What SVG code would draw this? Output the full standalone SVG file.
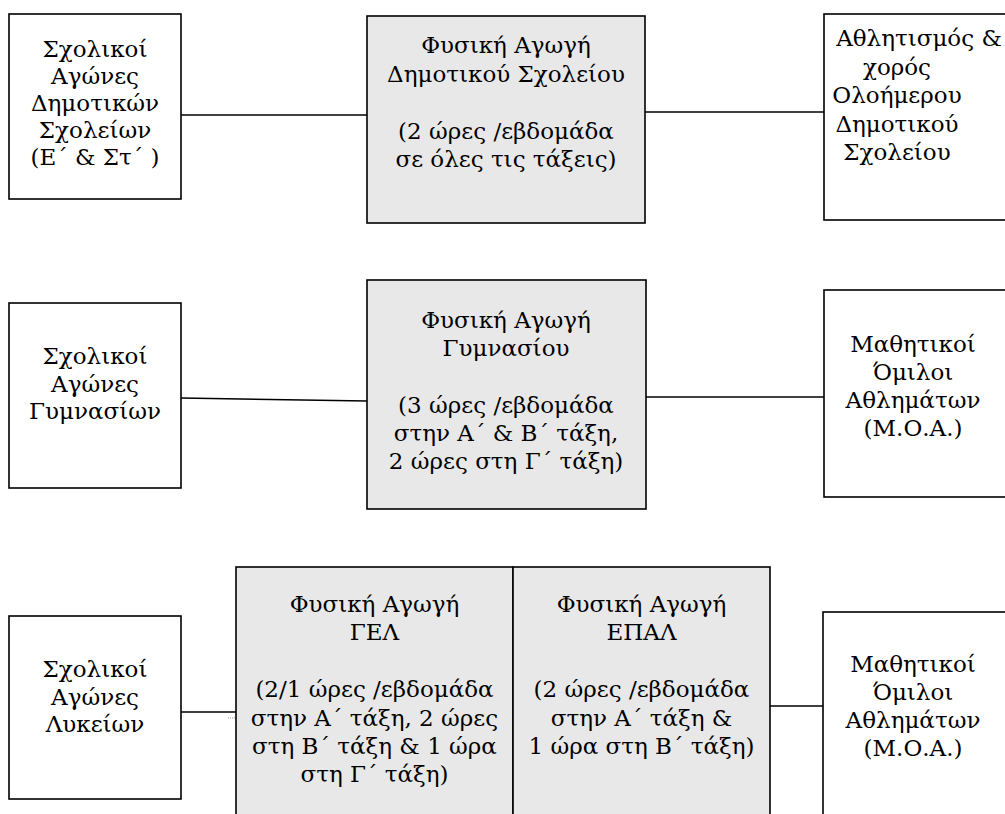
<svg xmlns="http://www.w3.org/2000/svg" width="1005" height="814" viewBox="0 0 1005 814">
<style>
.box{fill:#ffffff;stroke:#000000;stroke-width:1.6}
.gbox{fill:#e8e8e8;stroke:#000000;stroke-width:1.6}
text{font-family:"DejaVu Serif",serif;font-size:23px;fill:#000000;text-anchor:middle}
.c{stroke:#000000;stroke-width:1.6;fill:none}
</style>
<rect x="0" y="0" width="1005" height="814" fill="#ffffff"/>
<g id="connectors">
<line class="c" x1="181" y1="115" x2="367" y2="115"/>
<line class="c" x1="645" y1="112" x2="824" y2="112"/>
<line class="c" x1="181" y1="398" x2="367" y2="401"/>
<line class="c" x1="646" y1="397" x2="824" y2="397"/>
<line class="c" x1="181" y1="712" x2="236" y2="712"/>
<line class="c" x1="770" y1="706" x2="823" y2="706"/>
<line x1="228" y1="718" x2="235" y2="718" stroke="#999999" stroke-width="1" stroke-dasharray="1,1"/>
</g>
<g id="n1">
<rect class="box" x="9" y="14" width="172" height="185"/>
<text x="95" y="57">Σχολικοί</text>
<text x="95" y="84">Αγώνες</text>
<text x="95" y="111">Δημοτικών</text>
<text x="95" y="138">Σχολείων</text>
<text x="95" y="165">(Ε΄ &amp; Στ΄ )</text>
</g>
<g id="n2">
<rect class="gbox" x="367" y="16" width="278" height="207"/>
<text x="506" y="53">Φυσική Αγωγή</text>
<text x="506" y="81.5">Δημοτικού Σχολείου</text>
<text x="506" y="138.5">(2 ώρες /εβδομάδα</text>
<text x="506" y="167">σε όλες τις τάξεις)</text>
</g>
<g id="n3">
<rect class="box" x="824" y="14" width="190" height="206"/>
<text x="919" y="46">Αθλητισμός &amp;</text>
<text x="897" y="74.5">χορός</text>
<text x="897" y="103">Ολοήμερου</text>
<text x="897" y="131.5">Δημοτικού</text>
<text x="897" y="160">Σχολείου</text>
</g>
<g id="n4">
<rect class="box" x="9" y="303" width="172" height="185"/>
<text x="95" y="364">Σχολικοί</text>
<text x="95" y="391.5">Αγώνες</text>
<text x="95" y="419">Γυμνασίων</text>
</g>
<g id="n5">
<rect class="gbox" x="367" y="280" width="279" height="229"/>
<text x="506" y="328">Φυσική Αγωγή</text>
<text x="506" y="356">Γυμνασίου</text>
<text x="506" y="412.5">(3 ώρες /εβδομάδα</text>
<text x="506" y="440.5">στην Α΄ &amp; Β΄ τάξη,</text>
<text x="506" y="468.5">2 ώρες στη Γ΄ τάξη)</text>
</g>
<g id="n6">
<rect class="box" x="824" y="290" width="190" height="207"/>
<text x="913" y="352">Μαθητικοί</text>
<text x="913" y="380">Όμιλοι</text>
<text x="913" y="408">Αθλημάτων</text>
<text x="913" y="436">(Μ.Ο.Α.)</text>
</g>
<g id="n7">
<rect class="box" x="9" y="616" width="172" height="183"/>
<text x="95" y="677">Σχολικοί</text>
<text x="95" y="704.5">Αγώνες</text>
<text x="95" y="732">Λυκείων</text>
</g>
<g id="n8">
<rect class="gbox" x="236" y="567" width="277" height="260"/>
<text x="374.5" y="612">Φυσική Αγωγή</text>
<text x="374.5" y="640">ΓΕΛ</text>
<text x="374.5" y="697">(2/1 ώρες /εβδομάδα</text>
<text x="374.5" y="725.5">στην Α΄ τάξη, 2 ώρες</text>
<text x="374.5" y="754">στη Β΄ τάξη &amp; 1 ώρα</text>
<text x="374.5" y="782">στη Γ΄ τάξη)</text>
</g>
<g id="n9">
<rect class="gbox" x="513" y="567" width="257" height="260"/>
<text x="641.5" y="612">Φυσική Αγωγή</text>
<text x="641.5" y="640">ΕΠΑΛ</text>
<text x="641.5" y="697">(2 ώρες /εβδομάδα</text>
<text x="641.5" y="725.5">στην Α΄ τάξη &amp;</text>
<text x="641.5" y="754">1 ώρα στη Β΄ τάξη)</text>
</g>
<g id="n10">
<rect class="box" x="823" y="612" width="190" height="215"/>
<text x="913" y="671.5">Μαθητικοί</text>
<text x="913" y="700">Όμιλοι</text>
<text x="913" y="728">Αθλημάτων</text>
<text x="913" y="755.5">(Μ.Ο.Α.)</text>
</g>
</svg>
